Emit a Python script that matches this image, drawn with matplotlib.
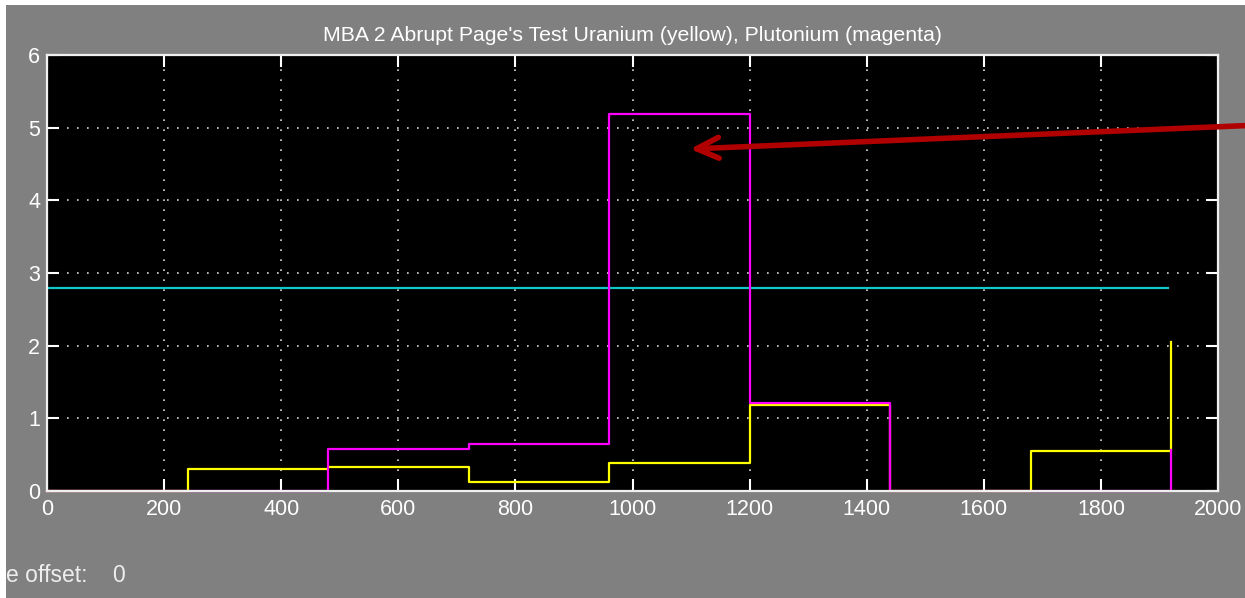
import matplotlib
matplotlib.use("Agg")
import matplotlib.pyplot as plt
from matplotlib.patches import Rectangle

# ---- data ----
step_edges = [0, 240, 480, 720, 960, 1200, 1440, 1680, 1920]
uranium = [0, 0.30, 0.33, 0.12, 0.39, 1.19, 0, 0.55, 2.05]
plutonium = [0, 0, 0.58, 0.64, 5.19, 1.21, 0, 0, 0.56]
threshold_x = [0, 1915]
threshold_y = [2.8, 2.8]
x_ticks = [0, 200, 400, 600, 800, 1000, 1200, 1400, 1600, 1800, 2000]
y_ticks = [0, 1, 2, 3, 4, 5, 6]
title = "MBA 2 Abrupt Page's Test Uranium (yellow), Plutonium (magenta)"

W, H = 1245, 598
plt.rcParams['font.family'] = ['Liberation Sans', 'DejaVu Sans']
fig = plt.figure(figsize=(W / 100, H / 100), dpi=100, facecolor='#808080')

# white margins at top and left of the screenshot
fig.add_artist(Rectangle((0, 1 - 5 / H), 1, 5 / H, transform=fig.transFigure,
                         facecolor='white', edgecolor='none'))
fig.add_artist(Rectangle((0, 0), 6 / W, 1, transform=fig.transFigure,
                         facecolor='white', edgecolor='none'))

ax = fig.add_axes([47 / W, 1 - 491 / H, (1218 - 47) / W, (491 - 55) / H])
ax.set_facecolor('black')
ax.set_xlim(0, 2000)
ax.set_ylim(0, 6)
ax.set_xticks(x_ticks)
ax.set_yticks(y_ticks)
ax.grid(True, color='#d8d8d8', linestyle=(0, (1, 5)), linewidth=1.2)
ax.set_axisbelow(True)
ax.tick_params(direction='in', length=8.5, width=1.5, colors='white',
               labelsize=15.5, top=True, right=True, pad=6)
ax.tick_params(axis='y', pad=5)
for s in ax.spines.values():
    s.set_color('#f0f0f0')
    s.set_linewidth(1.6)
    s.set_zorder(6)

ax.plot(threshold_x, threshold_y, color='#10c8c8', lw=1.6, zorder=3)
ax.plot(step_edges, uranium, drawstyle='steps-post', color='#ffff00', lw=1.6,
        clip_on=False, zorder=4)
ax.plot(step_edges, plutonium, drawstyle='steps-post', color='#ff00ff', lw=1.6,
        clip_on=False, zorder=5)

ax.set_title(title, color='white', fontsize=15.3, pad=10)

# red annotation arrow (open chevron head)
ax.annotate('', xy=(690, H - 149), xycoords='figure pixels',
            xytext=(1260, H - 125), textcoords='figure pixels',
            arrowprops=dict(arrowstyle='->,head_length=1.6,head_width=0.75',
                            color='#b00000', lw=4.0, mutation_scale=10,
                            shrinkA=0, shrinkB=0, capstyle='round',
                            joinstyle='round'),
            annotation_clip=False, zorder=8)

fig.text(6 / W, 1 - 575 / H, "e offset:    0", color='#eeeeee', fontsize=16.5,
         va='center', ha='left')

fig.savefig('out.png', dpi=100, facecolor=fig.get_facecolor())
